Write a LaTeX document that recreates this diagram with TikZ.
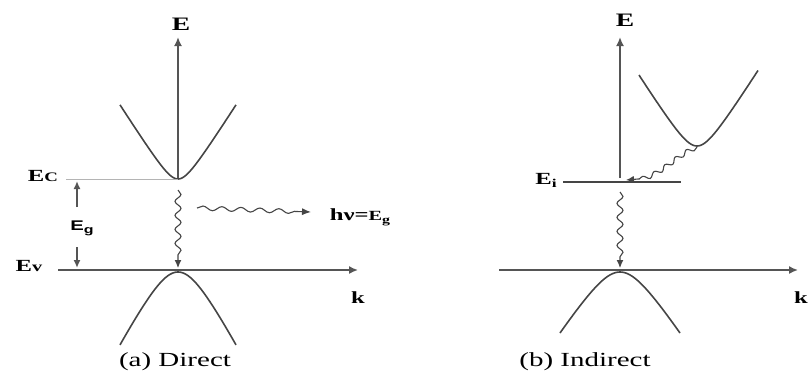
\documentclass[tikz,border=0pt]{standalone}
\usepackage{graphicx}
\usepackage{fontspec}
\setmainfont{Liberation Serif}
\newfontfamily\sansf{Liberation Sans}
\usetikzlibrary{arrows.meta,decorations.pathmorphing}
\definecolor{axisgray}{HTML}{555555}
\definecolor{bandgray}{HTML}{454545}
\definecolor{lightline}{HTML}{B4B4B4}
\newcommand{\xw}[1]{\scalebox{1.45}[1]{#1}}
\begin{document}
\begin{tikzpicture}[x=1pt,y=-1pt,
  axis/.style={draw=axisgray, line width=1.9pt, -{Latex[length=9pt,width=8pt]}},
  band/.style={draw=bandgray, line width=1.6pt},
  wave/.style={draw=bandgray, line width=1.1pt, decorate,
    decoration={snake, amplitude=3pt, segment length=14pt, post length=7pt},
    -{Latex[length=8pt,width=7pt]}},
  hwave/.style={draw=bandgray, line width=1.1pt, decorate,
    decoration={snake, amplitude=2.2pt, segment length=19pt, post length=9pt},
    -{Latex[length=9pt,width=7pt]}},
  gaparrow/.style={draw=axisgray, line width=1.9pt, -{Latex[length=8pt,width=7pt]}},
  lbl/.style={inner sep=0pt, font=\bfseries\fontsize{17}{17}\selectfont},
  captext/.style={inner sep=0pt, font=\fontsize{20}{20}\selectfont}
]
\useasboundingbox (0,0) rectangle (808,381);

% ---------- (a) Direct ----------
\coordinate (Lo) at (178,179);
\coordinate (Ltop) at (178,37);
\draw[axis] (Lo) -- (Ltop);
\node[lbl, font=\bfseries\fontsize{19}{19}\selectfont] (LE) at (181,24) {\xw{E}};
\draw[band] plot[domain=-58:58, samples=81] ({178+\x},{179-1.57*(sqrt(144+\x*\x)-12)});

\coordinate (ecl) at (66,179);
\draw[draw=lightline, line width=0.8pt] (ecl) -- (Lo);
\node[lbl] (Ec) at (43,176) {\xw{E{\fontsize{13}{13}\selectfont C}}};

\node[inner sep=0pt, font=\sansf\bfseries\fontsize{14}{14}\selectfont] (Eg) at (82,228)
  {\xw{E\raisebox{-3pt}{\fontsize{11}{11}\selectfont g}}};
\coordinate (egtop) at (77,181);
\coordinate (egbot) at (77,268);
\coordinate (egu) at (77,207);
\coordinate (egd) at (77,247);
\draw[gaparrow] (egu) -- (egtop);
\draw[gaparrow] (egd) -- (egbot);

\node[lbl] (Ev) at (29,266) {\xw{E{\fontsize{14}{14}\selectfont v}}};

\coordinate (kL0) at (58,270);
\coordinate (kL1) at (358,270);
\draw[axis, line width=1.6pt] (kL0) -- (kL1);
\node[lbl] (kL) at (358,298) {\xw{k}};

\draw[band] plot[domain=-58:58, samples=81] ({178+\x},{272+1.91*(sqrt(625+\x*\x)-25)});

\coordinate (wL0) at (178,190);
\coordinate (wL1) at (178,268);
\draw[wave] (wL0) -- (wL1);

\coordinate (hw0) at (197,208);
\coordinate (hw1) at (311,212);
\draw[hwave] (hw0) -- (hw1);
\node[lbl] (hv) at (360,217) {\xw{hν={\fontsize{14}{14}\selectfont E}\raisebox{-3pt}{\fontsize{11}{11}\selectfont g}}};

\node[captext] (capa) at (175,362) {\xw{(a) Direct}};

% ---------- (b) Indirect ----------
\coordinate (Ro) at (620,178);
\coordinate (Rtop) at (620,37);
\draw[axis] (Ro) -- (Rtop);
\node[lbl, font=\bfseries\fontsize{19}{19}\selectfont] (RE) at (625,20) {\xw{E}};

\coordinate (cbmin) at (697,147);
\draw[band] plot[domain=-58:61, samples=81] ({697+\x},{146-1.58*(sqrt(225+\x*\x)-15)});

\coordinate (ei0) at (563,182);
\coordinate (ei1) at (681,182);
\draw[draw=bandgray, line width=1.1pt] (ei0) -- (ei1);
\node[lbl] (Ei) at (546,180) {\xw{E\raisebox{-3pt}{\fontsize{12}{12}\selectfont i}}};

\coordinate (eiend) at (626,180);
\draw[wave, decoration={snake, amplitude=2.3pt, segment length=13pt, post length=13pt}]
  (cbmin) .. controls (672,158) and (662,180) .. (eiend);

\coordinate (wR0) at (620,192);
\coordinate (wR1) at (620,268);
\draw[wave] (wR0) -- (wR1);

\coordinate (kR0) at (499,270);
\coordinate (kR1) at (798,270);
\draw[axis, line width=1.6pt] (kR0) -- (kR1);
\node[lbl] (kR) at (801,298) {\xw{k}};

\draw[band] plot[domain=-60:60, samples=81] ({620+\x},{272+1.525*(sqrt(625+\x*\x)-25)});

\node[captext] (capb) at (585,362) {\xw{(b) Indirect}};
\end{tikzpicture}
\end{document}
